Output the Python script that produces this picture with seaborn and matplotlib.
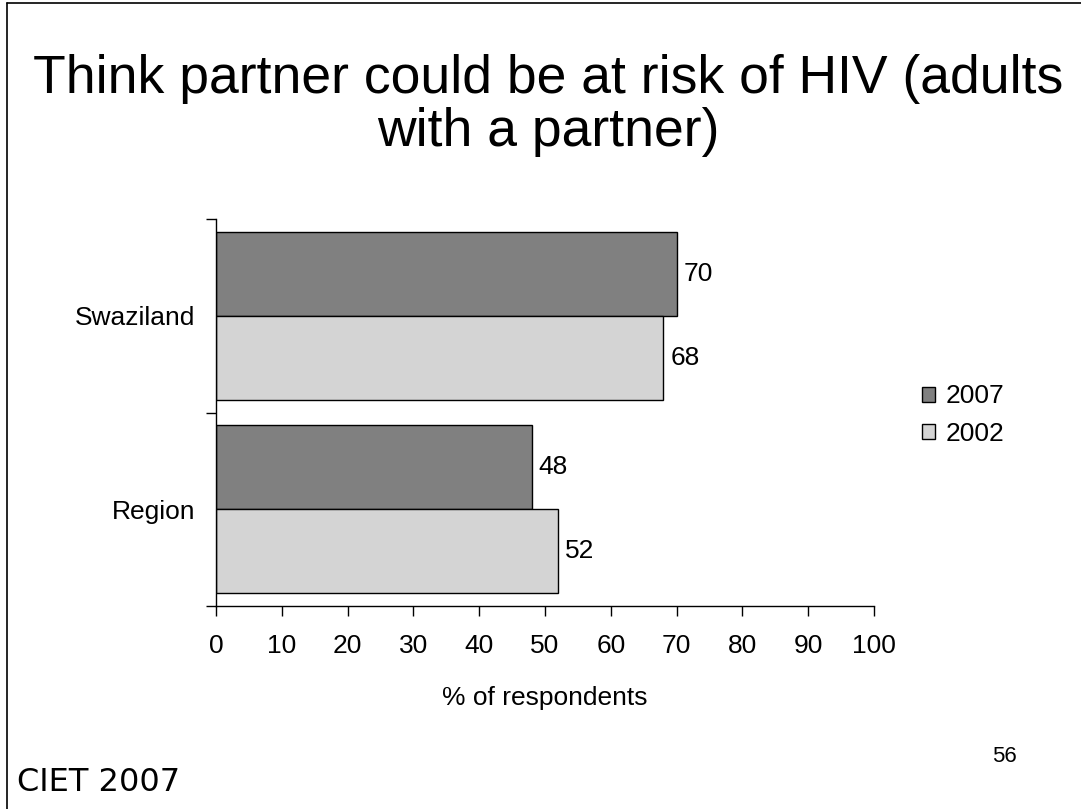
import pandas as pd
import seaborn as sns
import matplotlib.pyplot as plt
from matplotlib.patches import Rectangle
from matplotlib.ticker import FixedLocator

categories = ['Swaziland', 'Region']
years = ['2007', '2002']
values_2007 = [70, 48]
values_2002 = [68, 52]
xticks = list(range(0, 101, 10))
palette = {'2007': '#808080', '2002': '#d4d4d4'}

df = pd.DataFrame({
    'place': categories * 2,
    'year': ['2007'] * len(categories) + ['2002'] * len(categories),
    'pct': values_2007 + values_2002,
})

sns.set_theme(style='ticks')
plt.rcParams['font.family'] = ['Liberation Sans', 'DejaVu Sans']
plt.rcParams['text.color'] = 'black'
plt.rcParams['xtick.color'] = 'black'
plt.rcParams['ytick.color'] = 'black'
plt.rcParams['axes.labelcolor'] = 'black'

fig = plt.figure(figsize=(10.81, 8.09), dpi=100)
ax = fig.add_axes([0.1998, 0.2509, 0.6087, 0.4784])

sns.barplot(data=df, y='place', x='pct', hue='year', order=categories,
            hue_order=years, palette=palette, orient='h', width=0.866,
            edgecolor='black', linewidth=1, saturation=1, legend=False, ax=ax)

for cont in ax.containers:
    ax.bar_label(cont, fmt='%d', padding=5, fontsize=19, color='black')

ax.set_xlim(0, 100)
ax.set_ylim(1.5, -0.5)
ax.set_xticks(xticks)
ax.set_xticklabels([str(t) for t in xticks], fontsize=19)
ax.tick_params(axis='x', length=7, width=1, pad=13)

ax.yaxis.set_major_locator(FixedLocator([-0.5, 0.5, 1.5]))
ax.yaxis.set_major_formatter(plt.NullFormatter())
ax.yaxis.set_minor_locator(FixedLocator(range(len(categories))))
ax.yaxis.set_minor_formatter(plt.FixedFormatter(categories))
ax.tick_params(axis='y', which='major', length=7, width=1)
ax.tick_params(axis='y', which='minor', length=0, labelsize=19, pad=15)

ax.set_ylabel('')
ax.set_xlabel('% of respondents', fontsize=19, labelpad=20)
sns.despine(ax=ax)
for sp in ['left', 'bottom']:
    ax.spines[sp].set_color('black')
    ax.spines[sp].set_linewidth(1)

# legend
handles = [Rectangle((0, 0), 1, 1, facecolor=palette[y], edgecolor='black', linewidth=1)
           for y in years]
fig.legend(handles, years, loc='center left', bbox_to_anchor=(0.831, 0.487),
           frameon=False, fontsize=19, handlelength=0.5, handleheight=0.5,
           handletextpad=0.4, labelspacing=0.5)

fig.text(0.507, 0.870, 'Think partner could be at risk of HIV (adults\nwith a partner)',
         ha='center', va='center', fontsize=38.5, linespacing=1.08)
fig.text(0.016, 0.033, 'CIET 2007', family='DejaVu Sans', fontsize=23, va='center')
fig.text(0.918, 0.065, '56', fontsize=16, va='center')

# slide frame (top and left edges)
fig.add_artist(plt.Line2D([0.0065, 1], [0.996, 0.996], color='black', lw=1.2))
fig.add_artist(plt.Line2D([0.0065, 0.0065], [0, 0.996], color='black', lw=1.2))

fig.savefig('out.png', dpi=100)
